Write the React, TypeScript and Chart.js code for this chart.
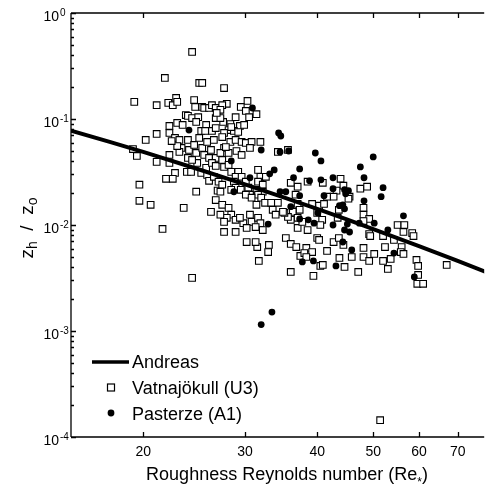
import React, { useEffect, useRef } from "react";
import { Chart, registerables } from "chart.js";

Chart.register(...registerables);

// Andreas model curve
const ANDREAS_RE = [15, 17.5, 20, 25, 30, 35, 40, 45, 50, 60, 70, 80];
const ANDREAS_RATIO = [0.0777, 0.0609, 0.0489, 0.0334, 0.0242, 0.0182, 0.0142, 0.0113, 0.00916, 0.00633, 0.00458, 0.00344];

// Vatnajökull (U3) – open squares
const VATNA_RE = [
  24.3, 21.8, 25.0, 25.3, 27.6, 19.3, 21.1, 22.1, 22.5, 22.8, 22.9, 24.5, 24.6, 25.3, 25.5, 26.0, 26.3, 26.7,
  23.7, 23.9, 24.3, 24.9, 24.7, 25.7, 26.7, 22.2, 22.9, 23.4, 22.2, 25.2, 25.6, 26.3, 26.7, 21.1, 27.9, 27.4,
  27.2, 30.3, 29.5, 30.1, 30.5, 31.4, 27.5, 28.3, 29.4, 29.9, 28.1, 28.7, 29.2, 27.6, 27.2, 28.9, 26.8, 28.4,
  20.2, 19.2, 19.5, 21.1, 22.2, 22.2, 22.7, 22.5, 21.9, 23.8, 24.2, 25.2, 24.7, 19.7, 19.7, 20.6, 23.5, 21.6,
  26.2, 26.7, 22.7, 23.1, 23.3, 23.1, 23.9, 24.0, 24.5, 24.7, 25.0, 25.3, 25.5, 25.8, 26.0, 26.2, 26.5, 26.7,
  24.8, 25.7, 25.8, 26.0, 26.5, 23.9, 27.0, 26.9, 22.9, 24.3, 26.3, 26.7, 22.4,
  27.4, 28.3, 28.9, 29.6, 30.1, 30.8, 31.9, 27.6, 27.2, 28.1, 29.0, 29.6, 30.6, 27.8, 27.4, 27.6, 28.1, 28.4,
  29.2, 28.9, 29.6, 28.7, 30.1, 27.4, 27.2, 31.6, 31.9, 32.6, 31.6, 32.2, 37.0, 36.7, 38.5, 36.0, 28.9, 29.5,
  30.4, 31.4, 32.2, 31.6, 30.6, 30.1, 30.8, 32.0, 31.4, 32.5, 33.3, 34.2, 33.5, 33.9, 37.0, 36.3, 37.3, 37.0,
  36.0, 35.6, 35.1, 27.4, 28.1, 28.4, 27.9, 28.9, 27.6, 27.2, 29.8, 30.6, 30.8, 31.6, 31.9, 31.3, 32.2, 30.2,
  37.0, 37.7, 38.5, 27.6, 28.9, 28.4, 29.4, 34.9, 39.2, 40.3, 41.1, 34.2, 35.6,
  43.9, 40.9, 44.4, 43.2, 42.7, 41.6, 45.5, 47.5, 48.8, 48.1, 48.1, 49.2, 48.1, 43.6, 43.4, 40.0, 40.8, 40.5,
  55.1, 56.6, 56.4, 58.4, 49.2, 45.3,
  30.2, 31.5, 33.0, 31.7, 32.9, 31.3, 35.3, 36.0, 36.8, 38.3, 37.4, 38.0, 39.2, 38.3, 40.0, 36.0, 39.4, 40.3,
  41.6, 42.7, 43.6, 44.4, 43.7, 45.9, 40.5, 40.9, 44.6, 47.1, 48.1, 48.1, 50.2, 49.2, 49.4, 52.0, 52.4, 54.3,
  56.0, 55.8, 56.4, 52.0, 53.6, 53.0, 59.4, 59.8, 59.8, 59.6, 61.0, 67.0, 58.7, 51.4, 24.3,
];
const VATNA_RATIO = [
  0.429, 0.244, 0.219, 0.219, 0.196, 0.145, 0.135, 0.142, 0.135, 0.158, 0.145, 0.151, 0.130, 0.130, 0.127, 0.127, 0.135, 0.127,
  0.109, 0.107, 0.102, 0.104, 0.0937, 0.0878, 0.102, 0.0859, 0.0917, 0.0878, 0.0738, 0.0771, 0.0771, 0.0771, 0.0822, 0.0722, 0.139, 0.135,
  0.122, 0.148, 0.130, 0.119, 0.104, 0.111, 0.0937, 0.0897, 0.0859, 0.0878, 0.0787, 0.0771, 0.0754, 0.0738, 0.102, 0.104, 0.114, 0.0840,
  0.0634, 0.0521, 0.0448, 0.0394, 0.0458, 0.0385, 0.0310, 0.0273, 0.0273, 0.0317, 0.0317, 0.0310, 0.0206, 0.0240, 0.0169, 0.0155, 0.0145, 0.00917,
  0.0133, 0.0172, 0.0662, 0.0634, 0.0533, 0.0489, 0.0634, 0.0510, 0.0569, 0.0478, 0.0662, 0.0533, 0.0458, 0.0607, 0.0429, 0.0510, 0.0634, 0.0429,
  0.0385, 0.0346, 0.0297, 0.0261, 0.0285, 0.0429, 0.0256, 0.0211, 0.0556, 0.0411, 0.0385, 0.0361, 0.0620,
  0.0676, 0.0607, 0.0634, 0.0607, 0.0594, 0.0607, 0.0607, 0.0533, 0.0478, 0.0478, 0.0499, 0.0458, 0.0533, 0.0544, 0.0411, 0.0353, 0.0369, 0.0317,
  0.0317, 0.0285, 0.0285, 0.0256, 0.0256, 0.0240, 0.0206, 0.0331, 0.0285, 0.0285, 0.0256, 0.0240, 0.0230, 0.0193, 0.0256, 0.0250, 0.0225, 0.0215,
  0.0225, 0.0215, 0.0206, 0.0193, 0.0193, 0.0193, 0.0181, 0.0181, 0.0155, 0.0162, 0.0162, 0.0162, 0.0139, 0.0125, 0.0158, 0.0133, 0.0139, 0.0117,
  0.0112, 0.0119, 0.0130, 0.0155, 0.0145, 0.0125, 0.0117, 0.0112, 0.0107, 0.0125, 0.0104, 0.0125, 0.0107, 0.0117, 0.0104, 0.00957, 0.00897, 0.00937,
  0.00937, 0.0107, 0.00897, 0.00859, 0.00859, 0.0215, 0.0117, 0.0133, 0.0158, 0.0152, 0.0158, 0.0489, 0.0510,
  0.0273, 0.0250, 0.0235, 0.0211, 0.0185, 0.0185, 0.0185, 0.0220, 0.0230, 0.0145, 0.0125, 0.0114, 0.0109, 0.0139, 0.0117, 0.0130, 0.0112, 0.0100,
  0.0100, 0.0100, 0.00859, 0.00840, 0.00822, 0.0177,
  0.00691, 0.00620, 0.00648, 0.00458, 0.00556, 0.00691, 0.00754, 0.00662, 0.00620, 0.00607, 0.00510, 0.00544, 0.00556, 0.00499, 0.00754, 0.00361, 0.00331, 0.00722,
  0.00569, 0.00691, 0.00754, 0.00648, 0.00489, 0.00499, 0.00411, 0.00420, 0.00402, 0.00361, 0.00607, 0.00499, 0.00533, 0.00458, 0.00787, 0.00787, 0.00620, 0.00722,
  0.00620, 0.00556, 0.00533, 0.00458, 0.00478, 0.00385, 0.00468, 0.00411, 0.00338, 0.00279, 0.00279, 0.00420, 0.00787, 0.000144, 0.00317,
];

// Pasterze (A1) – filled circles
const PASTERZE_RE = [
  24.0, 30.9, 34.3, 34.6, 28.4, 28.7, 32.0, 34.5, 35.7, 39.7, 33.7, 33.1, 37.3, 30.6, 36.4, 38.8, 34.5, 35.3,
  37.3, 36.0, 32.9, 38.6, 39.5, 40.6, 47.5, 50.0, 40.6, 42.6, 48.2, 42.6, 44.6, 45.3, 52.0, 51.6, 41.1, 44.8,
  48.2, 43.7, 44.3, 44.6, 56.4, 42.6, 45.1, 44.6, 47.3, 50.2, 53.0, 45.5, 40.1, 37.3, 44.3, 45.9, 43.1, 54.3,
  58.9, 37.7, 39.4, 32.0, 33.4,
];
const PASTERZE_RATIO = [
  0.0787, 0.127, 0.0738, 0.0691, 0.0402, 0.0206, 0.0510, 0.0489, 0.0499, 0.0478, 0.0331, 0.0304, 0.0338, 0.0279, 0.0279, 0.0261, 0.0206, 0.0206,
  0.0189, 0.0149, 0.0102, 0.0112, 0.0104, 0.0402, 0.0353, 0.0439, 0.0267, 0.0279, 0.0279, 0.0220, 0.0215, 0.0211, 0.0225, 0.0185, 0.0189, 0.0197,
  0.0169, 0.0152, 0.0155, 0.0142, 0.0122, 0.0100, 0.0102, 0.00897, 0.0104, 0.0104, 0.00897, 0.00859, 0.0130, 0.0114, 0.00691, 0.00581, 0.00411, 0.00544,
  0.00324, 0.00448, 0.00458, 0.00115, 0.00151,
];

const X_TICKS = [20, 30, 40, 50, 60, 70];
const Y_DECADES = [0, -1, -2, -3, -4];
const SERIES_NAMES = ["Andreas", "Vatnajökull (U3)", "Pasterze (A1)"];

const FONT = '"Liberation Sans", Arial, Helvetica, sans-serif';

const toPoints = (xs: number[], ys: number[]) => xs.map((x, i) => ({ x, y: ys[i] }));

const axesPlugin = {
  id: "customAxes",
  afterDraw(chart: any) {
    const ctx: CanvasRenderingContext2D = chart.ctx;
    const { left, right, top, bottom } = chart.chartArea;
    const xs = chart.scales.x;
    const ys = chart.scales.y;
    ctx.save();
    ctx.strokeStyle = "#000";
    ctx.fillStyle = "#000";
    ctx.lineWidth = 1.3;
    ctx.beginPath();
    ctx.moveTo(left, top);
    ctx.lineTo(right, top);
    ctx.moveTo(left, top);
    ctx.lineTo(left, bottom);
    ctx.moveTo(left, bottom);
    ctx.lineTo(right, bottom);
    // x ticks (inward, bottom and top)
    for (const v of X_TICKS) {
      const px = Math.round(xs.getPixelForValue(v)) + 0.5;
      ctx.moveTo(px, bottom);
      ctx.lineTo(px, bottom - 5);
      ctx.moveTo(px, top);
      ctx.lineTo(px, top + 5);
    }
    // y ticks major + minor
    for (const d of Y_DECADES) {
      const py = Math.round(ys.getPixelForValue(Math.pow(10, d))) + 0.5;
      ctx.moveTo(left, py);
      ctx.lineTo(left + 5, py);
      if (d < 0) {
        for (let m = 2; m <= 9; m++) {
          const pm = Math.round(ys.getPixelForValue(m * Math.pow(10, d))) + 0.5;
          ctx.moveTo(left, pm);
          ctx.lineTo(left + 3, pm);
        }
      }
    }
    ctx.stroke();

    // x tick labels
    ctx.font = `14px ${FONT}`;
    ctx.textAlign = "center";
    ctx.textBaseline = "alphabetic";
    for (const v of X_TICKS) {
      ctx.fillText(String(v), xs.getPixelForValue(v), bottom + 19);
    }
    // y tick labels 10^n
    for (const d of Y_DECADES) {
      const py = ys.getPixelForValue(Math.pow(10, d));
      ctx.font = `14px ${FONT}`;
      ctx.textAlign = "right";
      ctx.fillText("10", 59, py + 8);
      ctx.font = `10px ${FONT}`;
      ctx.textAlign = "left";
      ctx.fillText(String(d), 60, py + 3);
    }

    // x title
    ctx.font = `18px ${FONT}`;
    const main = "Roughness Reynolds number (Re";
    const wMain = ctx.measureText(main).width;
    ctx.font = `12px ${FONT}`;
    const wStar = ctx.measureText("*").width;
    ctx.font = `18px ${FONT}`;
    const wClose = ctx.measureText(")").width;
    const total = wMain + wStar + wClose;
    let sx = 287 - total / 2;
    ctx.textAlign = "left";
    ctx.fillText(main, sx, 480);
    sx += wMain;
    ctx.font = `12px ${FONT}`;
    ctx.fillText("*", sx, 486);
    sx += wStar;
    ctx.font = `18px ${FONT}`;
    ctx.fillText(")", sx, 480);

    // y title: z_h / z_o (rotated)
    ctx.save();
    ctx.translate(28, 228);
    ctx.rotate(-Math.PI / 2);
    const parts: [string, number, number][] = [
      ["z", 19, 0],
      ["h", 14, 4],
      ["  /  ", 19, 0],
      ["z", 19, 0],
      ["o", 14, 4],
    ];
    let tw = 0;
    for (const [t, f] of parts) {
      ctx.font = `${f}px ${FONT}`;
      tw += ctx.measureText(t).width;
    }
    let tx = -tw / 2;
    for (const [t, f, dy] of parts) {
      ctx.font = `${f}px ${FONT}`;
      ctx.fillText(t, tx, 5 + dy);
      tx += ctx.measureText(t).width;
    }
    ctx.restore();

    // legend
    ctx.font = `18px ${FONT}`;
    ctx.textAlign = "left";
    ctx.lineWidth = 3.5;
    ctx.beginPath();
    ctx.moveTo(92, 362);
    ctx.lineTo(129, 362);
    ctx.stroke();
    ctx.fillText(SERIES_NAMES[0], 132, 368);
    ctx.lineWidth = 1.2;
    ctx.fillStyle = "#fff";
    ctx.fillRect(107.5, 384, 7, 7);
    ctx.strokeRect(107.5, 384, 7, 7);
    ctx.fillStyle = "#000";
    ctx.fillText(SERIES_NAMES[1], 132, 394);
    ctx.beginPath();
    ctx.arc(111, 413, 3.4, 0, Math.PI * 2);
    ctx.fill();
    ctx.fillText(SERIES_NAMES[2], 132, 420);
    ctx.restore();
  },
};

export default function App() {
  const ref = useRef<HTMLCanvasElement | null>(null);
  useEffect(() => {
    if (!ref.current) return;
    const chart = new Chart(ref.current, {
      type: "scatter",
      data: {
        datasets: [
          {
            label: SERIES_NAMES[0],
            type: "line",
            data: toPoints(ANDREAS_RE, ANDREAS_RATIO),
            borderColor: "#000",
            borderWidth: 4,
            pointRadius: 0,
            fill: false,
            tension: 0,
          } as any,
          {
            label: SERIES_NAMES[2],
            data: toPoints(PASTERZE_RE, PASTERZE_RATIO),
            pointStyle: "circle",
            pointRadius: 3.4,
            backgroundColor: "#000",
            borderColor: "#000",
            borderWidth: 0,
          },
          {
            label: SERIES_NAMES[1],
            data: toPoints(VATNA_RE, VATNA_RATIO),
            pointStyle: "rect",
            pointRadius: 4.7,
            backgroundColor: "#fff",
            borderColor: "#000",
            borderWidth: 1.1,
          },
        ],
      },
      options: {
        animation: false,
        responsive: false,
        devicePixelRatio: 1,
        layout: { padding: { left: 71, top: 13, right: 0, bottom: 50 } },
        plugins: { legend: { display: false }, tooltip: { enabled: false } },
        events: [],
        scales: {
          x: { type: "logarithmic", min: 15, max: 77.8, display: false },
          y: { type: "logarithmic", min: 1e-4, max: 1, display: false },
        },
      },
      plugins: [axesPlugin],
    });
    return () => chart.destroy();
  }, []);
  return (
    <div style={{ position: "absolute", left: 0, top: 0, width: 490, height: 487, background: "#fff" }}>
      <canvas ref={ref} width={490} height={487} style={{ display: "block" }} />
    </div>
  );
}
